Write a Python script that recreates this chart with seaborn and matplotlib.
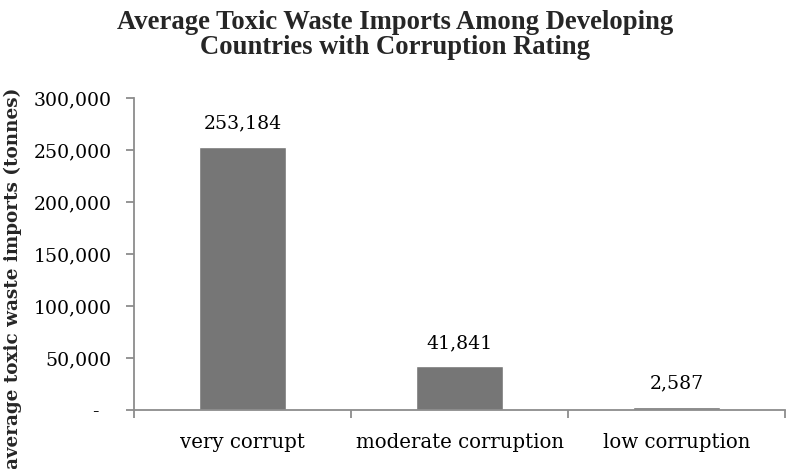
import matplotlib
matplotlib.use("Agg")
import matplotlib.pyplot as plt
import matplotlib.ticker as mticker
import seaborn as sns
import pandas as pd

categories = ["very corrupt", "moderate corruption", "low corruption"]
imports_tonnes = [253184, 41841, 2587]
y_ticks = [0, 50000, 100000, 150000, 200000, 250000, 300000]

df = pd.DataFrame({"rating": categories, "imports": imports_tonnes})

sns.set_theme(style="white")
plt.rcParams["font.family"] = ["DejaVu Serif"]

W, H = 788, 469
fig = plt.figure(figsize=(W / 100, H / 100), dpi=100)
ax = fig.add_axes([134 / W, 1 - 410 / H, (785 - 134) / W, (410 - 98) / H])

sns.barplot(data=df, x="rating", y="imports", order=categories,
            color="#767676", saturation=1, width=0.4, ax=ax)

ax.set_xlim(-0.5, 2.5)
ax.set_ylim(0, 300000)
ax.set_yticks(y_ticks)
ax.yaxis.set_major_formatter(
    mticker.FuncFormatter(lambda v, p: "-  " if v == 0 else f"{v:,.0f}"))

axis_grey = "#8c8c8c"
for side in ["top", "right"]:
    ax.spines[side].set_visible(False)
for side in ["left", "bottom"]:
    ax.spines[side].set_color(axis_grey)
    ax.spines[side].set_linewidth(1.3)

# category boundaries carry the x tick marks; labels sit at the centres
ax.set_xticks([-0.5, 0.5, 1.5, 2.5], minor=True)
ax.tick_params(axis="x", which="minor", length=6, width=1.3, color=axis_grey,
               direction="out", bottom=True)
ax.tick_params(axis="x", which="major", length=0, pad=16.5, labelsize=14.2,
               labelcolor="black")
ax.tick_params(axis="y", length=6, width=1.3, color=axis_grey,
               direction="out", left=True, pad=10, labelsize=13.6,
               labelcolor="black")

for i, v in enumerate(imports_tonnes):
    ax.annotate(f"{v:,.0f}", xy=(i, v), xytext=(0, 17),
                textcoords="offset points", ha="center", va="center",
                fontsize=13.6, color="black")

ax.set_xlabel("")
ax.set_ylabel("")
fig.text(13 / W, 1 - 88 / H, "average toxic waste imports (tonnes)",
         rotation=90, ha="center", va="top", fontsize=13.2,
         fontweight="bold", family="DejaVu Serif")

fig.text(395 / W, 1 - 35 / H,
         "Average Toxic Waste Imports Among Developing\nCountries with Corruption Rating",
         ha="center", va="center", fontsize=19.2, fontweight="bold",
         family="Liberation Serif", linespacing=1.05)

fig.savefig("out.png", dpi=100)
